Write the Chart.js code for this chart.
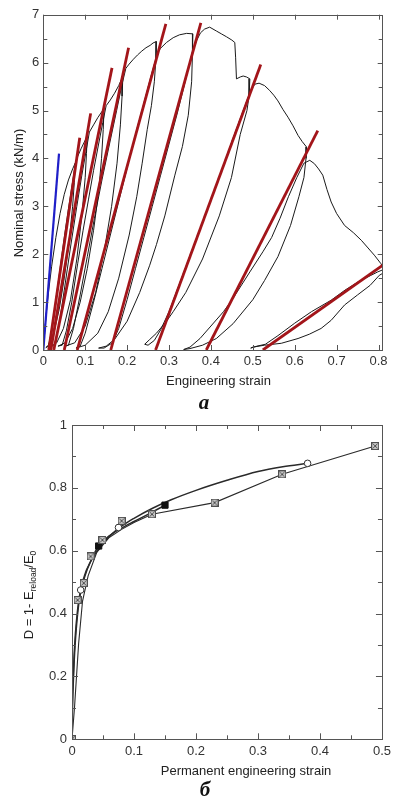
<!DOCTYPE html>
<html>
<head>
<meta charset="utf-8">
<script src="https://cdn.jsdelivr.net/npm/chart.js@4.4.0/dist/chart.umd.min.js"></script>
<style>
body { margin:0; background:#fff; width:395px; height:805px; position:relative; overflow:hidden; }
canvas { position:absolute; left:0; }
#c1 { top:0; }
#c2 { top:410px; }
.tag { position:absolute; font:italic bold 21px "Liberation Serif", "DejaVu Serif", serif; color:#111; transform:translate(-50%,-50%); }
</style>
</head>
<body>
<canvas id="c1" width="395" height="392"></canvas>
<div class="tag" style="left:204px;top:402px">a</div>
<canvas id="c2" width="395" height="370"></canvas>
<div class="tag" style="left:205px;top:789px">б</div>
<script>
// ---- chart a: cyclic loading curve ----
const topXTicks = [0, 0.1, 0.2, 0.3, 0.4, 0.5, 0.6, 0.7, 0.8];
const topXLabels = ['0', '0.1', '0.2', '0.3', '0.4', '0.5', '0.6', '0.7', '0.8'];
const topYTicks = [0, 1, 2, 3, 4, 5, 6, 7];
const topYLabels = ['0', '1', '2', '3', '4', '5', '6', '7'];
const topYMinor = [0.5, 1.5, 2.5, 3.5, 4.5, 5.5, 6.5];

// measured curve, [strain, stress] in path order
const blackPath = [
  [0,0],[0.004,0.45],[0.008,0.85],[0.013,1.25],[0.02,1.75],[0.03,2.35],[0.04,2.85],[0.05,3.25],[0.06,3.55],[0.07,3.78],[0.076,3.9],
  [0.074,3.5],[0.07,3.0],[0.062,2.3],[0.05,1.5],[0.038,0.85],[0.025,0.35],[0.012,0.1],[0.006,0.05],
  [0.012,0.08],[0.02,0.4],[0.03,1.05],[0.04,1.7],[0.05,2.35],[0.06,2.95],[0.068,3.4],[0.074,3.75],[0.08,4.0],
  [0.09,4.2],[0.1,4.38],[0.105,4.48],
  [0.103,4.1],[0.1,3.6],[0.092,2.8],[0.08,1.9],[0.065,1.05],[0.048,0.45],[0.032,0.15],[0.02,0.08],
  [0.028,0.12],[0.038,0.55],[0.05,1.25],[0.065,2.15],[0.08,3.0],[0.092,3.65],[0.102,4.15],[0.11,4.55],
  [0.12,4.7],[0.13,4.85],[0.14,4.98],[0.145,5.05],
  [0.143,4.6],[0.139,4.0],[0.132,3.3],[0.12,2.5],[0.105,1.7],[0.088,1.0],[0.07,0.45],[0.052,0.15],[0.035,0.08],
  [0.045,0.1],[0.055,0.4],[0.068,1.0],[0.082,1.8],[0.095,2.5],[0.108,3.15],[0.12,3.75],[0.132,4.3],[0.142,4.75],[0.15,5.1],
  [0.16,5.22],[0.17,5.36],[0.18,5.52],[0.19,5.72],
  [0.188,5.3],[0.184,4.7],[0.176,3.9],[0.163,3.0],[0.146,2.1],[0.125,1.2],[0.1,0.5],[0.075,0.15],[0.052,0.08],
  [0.06,0.1],[0.072,0.45],[0.088,1.15],[0.105,1.95],[0.122,2.75],[0.14,3.55],[0.158,4.3],[0.175,5.0],[0.188,5.55],[0.197,5.88],
  [0.205,5.97],[0.215,6.07],[0.225,6.16],[0.235,6.24],[0.245,6.31],[0.255,6.36],[0.262,6.41],[0.27,6.44],
  [0.269,6.1],[0.265,5.6],[0.258,5.1],[0.248,4.6],[0.236,3.9],[0.223,3.2],[0.205,2.4],[0.18,1.5],[0.155,0.8],[0.13,0.35],[0.1,0.1],[0.078,0.04],
  [0.088,0.08],[0.1,0.35],[0.12,1.0],[0.14,1.7],[0.16,2.4],[0.18,3.1],[0.2,3.8],[0.22,4.5],[0.24,5.15],[0.255,5.65],[0.266,6.0],[0.274,6.22],
  [0.28,6.3],[0.294,6.42],[0.31,6.52],[0.325,6.58],[0.342,6.61],[0.357,6.6],
  [0.356,6.2],[0.354,5.6],[0.346,4.9],[0.332,4.25],[0.314,3.65],[0.29,2.8],[0.27,2.2],[0.254,1.77],[0.23,1.2],[0.2,0.6],[0.17,0.22],[0.15,0.08],[0.132,0.04],
  [0.145,0.04],[0.165,0.15],[0.18,0.45],[0.2,1.05],[0.22,1.7],[0.24,2.35],[0.26,3.0],[0.28,3.65],[0.3,4.3],[0.32,4.95],[0.34,5.65],[0.355,6.2],[0.366,6.46],
  [0.375,6.62],[0.385,6.7],[0.397,6.74],[0.413,6.66],[0.425,6.6],[0.437,6.54],[0.45,6.47],[0.457,6.42],[0.459,6.1],[0.461,5.66],[0.47,5.7],[0.477,5.72],[0.485,5.7],[0.493,5.66],
  [0.491,5.3],[0.486,5.0],[0.47,4.5],[0.449,3.6],[0.42,2.8],[0.38,1.9],[0.34,1.2],[0.31,0.8],[0.294,0.6],[0.27,0.35],[0.254,0.22],[0.242,0.12],
  [0.25,0.1],[0.265,0.2],[0.28,0.42],[0.3,0.8],[0.33,1.5],[0.36,2.2],[0.39,2.9],[0.42,3.6],[0.45,4.35],[0.475,4.95],[0.495,5.42],[0.505,5.55],
  [0.515,5.57],[0.528,5.52],[0.54,5.42],[0.55,5.32],[0.56,5.2],[0.572,5.02],[0.584,4.86],[0.596,4.68],[0.608,4.48],[0.618,4.35],[0.628,4.24],
  [0.627,4.0],[0.622,3.6],[0.61,3.2],[0.59,2.6],[0.56,1.95],[0.528,1.45],[0.5,1.05],[0.453,0.55],[0.413,0.24],[0.38,0.1],[0.35,0.03],[0.335,0.01],
  [0.35,0.06],[0.374,0.24],[0.4,0.5],[0.43,0.8],[0.453,1.08],[0.493,1.63],[0.524,2.05],[0.545,2.35],[0.565,2.75],[0.585,3.2],[0.605,3.6],[0.622,3.9],[0.636,3.96],
  [0.647,3.89],[0.657,3.78],[0.667,3.65],[0.677,3.35],[0.687,3.09],[0.7,2.85],[0.719,2.6],[0.74,2.45],[0.759,2.29],[0.775,2.13],[0.79,1.98],[0.806,1.8],[0.812,1.7],
  [0.81,1.6],[0.802,1.56],[0.78,1.35],[0.75,1.15],[0.719,0.94],[0.687,0.62],[0.663,0.45],[0.635,0.33],[0.608,0.24],[0.568,0.14],[0.528,0.1],[0.5,0.06],[0.495,0.04],
  [0.51,0.08],[0.53,0.12],[0.56,0.3],[0.6,0.56],[0.64,0.8],[0.687,1.04],[0.72,1.25],[0.751,1.42],[0.78,1.55],[0.798,1.63],[0.812,1.68]
];

// reload modulus lines (red) and initial modulus (blue)
const redStart = [0.013, 0.018, 0.025, 0.050, 0.081, 0.161, 0.268, 0.389, 0.524];
const redEndStrain = [0.087, 0.113, 0.164, 0.2035, 0.2925, 0.376, 0.519, 0.655, 0.812];
const redEndStress = [4.43, 4.94, 5.89, 6.31, 6.81, 6.83, 5.96, 4.58, 1.78];
const blueStrain = [0, 0.0375];
const blueStress = [0, 4.1];

// ---- chart б: damage vs permanent strain ----
const botXTicks = [0, 0.1, 0.2, 0.3, 0.4, 0.5];
const botXLabels = ['0', '0.1', '0.2', '0.3', '0.4', '0.5'];
const botXMinor = [0.05, 0.15, 0.25, 0.35, 0.45];
const botYTicks = [0, 0.2, 0.4, 0.6, 0.8, 1];
const botYLabels = ['0', '0.2', '0.4', '0.6', '0.8', '1'];
const botYMinor = [0.1, 0.3, 0.5, 0.7, 0.9];

const boxStrain = [0, 0.009, 0.019, 0.03, 0.049, 0.08, 0.129, 0.23, 0.339, 0.489];
const boxD = [0, 0.443, 0.497, 0.582, 0.634, 0.695, 0.716, 0.753, 0.843, 0.933];
const circleStrain = [0.014, 0.075, 0.38];
const circleD = [0.475, 0.674, 0.878];
const squareStrain = [0.043, 0.15];
const squareD = [0.615, 0.745];

const upperCurve = [[0,0],[0.0005,0.1],[0.002,0.2],[0.0043,0.3],[0.0107,0.44],[0.02,0.52],[0.03,0.565],[0.045,0.612],[0.06,0.645],[0.08,0.678],[0.1,0.703],[0.13,0.735],[0.16,0.762],[0.2,0.792],[0.25,0.824],[0.3,0.852],[0.34,0.867],[0.38,0.878]];
const middleCurve = [[0,0],[0.0008,0.1],[0.0025,0.2],[0.005,0.3],[0.0115,0.44],[0.021,0.52],[0.032,0.575],[0.043,0.615],[0.06,0.647],[0.08,0.672],[0.1,0.693],[0.125,0.718],[0.15,0.745]];
const lowerCurve = [[0,0],[0.004,0.1],[0.0107,0.305],[0.017,0.44],[0.026,0.52],[0.04,0.595],[0.06,0.642],[0.08,0.668],[0.1,0.69],[0.129,0.716],[0.23,0.753],[0.339,0.843],[0.489,0.933]];

Chart.defaults.font.family = '"Liberation Sans", Arial, sans-serif';
Chart.defaults.font.size = 13;
Chart.defaults.color = '#333';

const FONT = '"Liberation Sans", Arial, sans-serif';

// box round the plot and inward ticks on all four sides
function frameTicks(o) {
  return {
    id: 'frameTicks',
    afterDatasetsDraw(chart) {
      const ctx = chart.ctx, a = chart.chartArea, xs = chart.scales.x, ys = chart.scales.y;
      ctx.save();
      ctx.strokeStyle = '#555';
      ctx.lineWidth = 1;
      ctx.beginPath();
      const xt = (vals, len) => vals.forEach(v => {
        const p = Math.round(xs.getPixelForValue(v)) + 0.5;
        ctx.moveTo(p, a.bottom); ctx.lineTo(p, a.bottom - len);
        ctx.moveTo(p, a.top); ctx.lineTo(p, a.top + len);
      });
      const yt = (vals, len) => vals.forEach(v => {
        const p = Math.round(ys.getPixelForValue(v)) + 0.5;
        ctx.moveTo(a.left, p); ctx.lineTo(a.left + len, p);
        ctx.moveTo(a.right, p); ctx.lineTo(a.right - len, p);
      });
      xt(o.xMajor, o.major); xt(o.xMinor, o.minor);
      yt(o.yMajor, o.major); yt(o.yMinor, o.minor);
      ctx.stroke();
      ctx.strokeRect(Math.round(a.left) + 0.5, Math.round(a.top) + 0.5,
        Math.round(a.right - a.left), Math.round(a.bottom - a.top));
      ctx.restore();
    }
  };
}

// axis titles, with optional subscripts
function titles(items) {
  return {
    id: 'titles',
    afterDraw(chart) {
      const ctx = chart.ctx;
      items.forEach(it => {
        ctx.save();
        ctx.translate(it.x, it.y);
        ctx.rotate(it.rot || 0);
        ctx.fillStyle = '#222';
        ctx.textAlign = 'left';
        ctx.textBaseline = 'alphabetic';
        let w = 0;
        it.parts.forEach(p => { ctx.font = p.size + 'px ' + FONT; w += ctx.measureText(p.text).width; });
        let cx = -w / 2;
        it.parts.forEach(p => {
          ctx.font = p.size + 'px ' + FONT;
          ctx.fillText(p.text, cx, 4.5 + (p.shift || 0));
          cx += ctx.measureText(p.text).width;
        });
        ctx.restore();
      });
    }
  };
}

const pts = (xs, ys) => xs.map((x, i) => ({x: x, y: ys[i]}));
const pairs = arr => arr.map(p => ({x: p[0], y: p[1]}));

const redSets = redStart.map((s, i) => ({
  data: [{x: s, y: 0}, {x: redEndStrain[i], y: redEndStress[i]}],
  showLine: true, borderColor: '#a3151a', borderWidth: 2.8, pointRadius: 0, order: 1
}));

new Chart(document.getElementById('c1'), {
  type: 'scatter',
  data: {
    datasets: [
      ...redSets,
      { data: pts(blueStrain, blueStress), showLine: true, borderColor: '#1f1fc8', borderWidth: 2.2, pointRadius: 0, order: 1 },
      { data: pairs(blackPath), showLine: true, borderColor: '#1a1a1a', borderWidth: 1, pointRadius: 0, order: 2 }
    ]
  },
  options: {
    responsive: false,
    animation: false,
    layout: { padding: { top: 14.7, right: 12.3, left: 0, bottom: 0 } },
    plugins: { legend: { display: false }, tooltip: { enabled: false } },
    scales: {
      x: {
        type: 'linear', min: 0, max: 0.81,
        grid: { display: false, drawTicks: false }, border: { display: false },
        ticks: { padding: 4, autoSkip: false, maxRotation: 0, callback: (v, i) => topXLabels[i] },
        afterBuildTicks: s => { s.ticks = topXTicks.map(v => ({ value: v })); },
        afterFit: s => { s.height = 42; }
      },
      y: {
        type: 'linear', min: 0, max: 7,
        grid: { display: false, drawTicks: false }, border: { display: false },
        ticks: { padding: 4, autoSkip: false, callback: (v, i) => topYLabels[i] },
        afterBuildTicks: s => { s.ticks = topYTicks.map(v => ({ value: v })); },
        afterFit: s => { s.width = 43.3; }
      }
    }
  },
  plugins: [
    frameTicks({ major: 5, minor: 4, xMajor: topXTicks, xMinor: [], yMajor: topYTicks, yMinor: topYMinor }),
    titles([
      { x: 218.5, y: 380, parts: [{ text: 'Engineering strain', size: 13 }] },
      { x: 18, y: 193, rot: -Math.PI / 2, parts: [{ text: 'Nominal stress (kN/m)', size: 13 }] }
    ])
  ]
});

// crossed grey box marker
function crossBox() {
  const c = document.createElement('canvas');
  c.width = 8; c.height = 8;
  const g = c.getContext('2d');
  g.fillStyle = '#c6c6c6';
  g.fillRect(0.5, 0.5, 7, 7);
  g.strokeStyle = '#505050';
  g.lineWidth = 1;
  g.strokeRect(0.5, 0.5, 7, 7);
  g.beginPath();
  g.moveTo(1.5, 1.5); g.lineTo(6.5, 6.5);
  g.moveTo(6.5, 1.5); g.lineTo(1.5, 6.5);
  g.stroke();
  return c;
}

const curveStyle = { showLine: true, borderColor: '#2a2a2a', pointRadius: 0, order: 2 };

new Chart(document.getElementById('c2'), {
  type: 'scatter',
  data: {
    datasets: [
      { data: pts(boxStrain, boxD), pointStyle: crossBox(), pointRadius: 4, order: 0 },
      { data: pts(circleStrain, circleD), pointStyle: 'circle', pointRadius: 3.3, backgroundColor: '#fff', borderColor: '#333', borderWidth: 1, order: 0 },
      { data: pts(squareStrain, squareD), pointStyle: 'rect', pointRadius: 4.4, backgroundColor: '#111', borderColor: '#111', borderWidth: 1, order: 0 },
      { data: pairs(upperCurve), ...curveStyle, borderWidth: 1.5, cubicInterpolationMode: 'monotone' },
      { data: pairs(middleCurve), ...curveStyle, borderWidth: 1.5, cubicInterpolationMode: 'monotone' },
      { data: pairs(lowerCurve), ...curveStyle, borderWidth: 1.1 }
    ]
  },
  options: {
    responsive: false,
    animation: false,
    layout: { padding: { top: 15, right: 9, left: 0, bottom: 0 } },
    plugins: { legend: { display: false }, tooltip: { enabled: false } },
    scales: {
      x: {
        type: 'linear', min: 0, max: 0.5,
        grid: { display: false, drawTicks: false }, border: { display: false },
        ticks: { padding: 4, autoSkip: false, maxRotation: 0, callback: (v, i) => botXLabels[i] },
        afterBuildTicks: s => { s.ticks = botXTicks.map(v => ({ value: v })); },
        afterFit: s => { s.height = 40.7; }
      },
      y: {
        type: 'linear', min: 0, max: 1,
        grid: { display: false, drawTicks: false }, border: { display: false },
        ticks: { padding: 5, autoSkip: false, callback: (v, i) => botYLabels[i] },
        afterBuildTicks: s => { s.ticks = botYTicks.map(v => ({ value: v })); },
        afterFit: s => { s.width = 72; }
      }
    }
  },
  plugins: [
    frameTicks({ major: 6, minor: 4, xMajor: botXTicks, xMinor: botXMinor, yMajor: botYTicks, yMinor: botYMinor }),
    titles([
      { x: 246, y: 360, parts: [{ text: 'Permanent engineering strain', size: 13 }] },
      { x: 28, y: 185, rot: -Math.PI / 2, parts: [
        { text: 'D = 1- E', size: 13 },
        { text: 'reload', size: 8.5, shift: 3 },
        { text: '/E', size: 13 },
        { text: '0', size: 8.5, shift: 3 }
      ] }
    ])
  ]
});
</script>
</body>
</html>
